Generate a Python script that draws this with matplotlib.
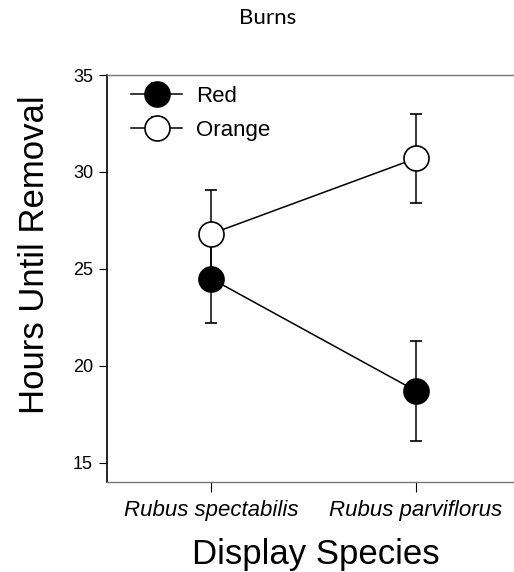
import numpy as np
import matplotlib.pyplot as plt

# data
species = ["Rubus spectabilis", "Rubus parviflorus"]
red_mean = [24.5, 18.7]
red_err = [2.3, 2.6]
orange_mean = [26.8, 30.7]
orange_err = [2.25, 2.3]
yticks = [15, 20, 25, 30, 35]

plt.rcParams['font.family'] = ['Liberation Sans', 'DejaVu Sans']

fig = plt.figure(figsize=(5.14, 5.72), dpi=100)
ax = fig.add_axes([107 / 514, 90 / 572, 1 - 107 / 514, 407 / 572])

x = np.arange(len(species))

ax.errorbar(x, red_mean, yerr=red_err, color='black', lw=1.1,
            marker='o', ms=18, mfc='black', mec='black', mew=1.2,
            capsize=4, capthick=1.1, elinewidth=1.1, label='Red', zorder=3)
ax.errorbar(x, orange_mean, yerr=orange_err, color='black', lw=1.1,
            marker='o', ms=18, mfc='white', mec='black', mew=1.2,
            capsize=4, capthick=1.1, elinewidth=1.1, label='Orange', zorder=4)

ax.set_xlim(-0.507, 1.478)
ax.set_ylim(14, 35)
ax.set_yticks(yticks)
ax.set_xticks(x)
ax.set_xticklabels(species, fontsize=16, style='italic')
ax.tick_params(axis='y', labelsize=13, direction='out', length=6, width=0.8, pad=4)
ax.tick_params(axis='x', direction='out', length=7, width=0.8, pad=6)

ax.spines['right'].set_visible(False)
ax.spines['left'].set_linewidth(1.2)
for s in ['top', 'bottom']:
    ax.spines[s].set_color('#777777')
    ax.spines[s].set_linewidth(1.0)

ax.set_ylabel("Hours Until Removal", fontsize=25)
ax.yaxis.set_label_coords(-0.138, 0.558)
ax.set_xlabel("Display Species", fontsize=25, labelpad=12)
ax.xaxis.label.set_x(0.5135)

ax.legend(loc='upper left', frameon=False, fontsize=16, handlelength=2.3,
          handletextpad=0.63, labelspacing=0.6, borderpad=0.3,
          borderaxespad=0, bbox_to_anchor=(0.0425, 0.99))

fig.text(0.52, 0.968, "Burns", ha='center', va='center', fontsize=16,
         family=['Lato', 'DejaVu Sans'])

fig.savefig("out.png", dpi=100)
